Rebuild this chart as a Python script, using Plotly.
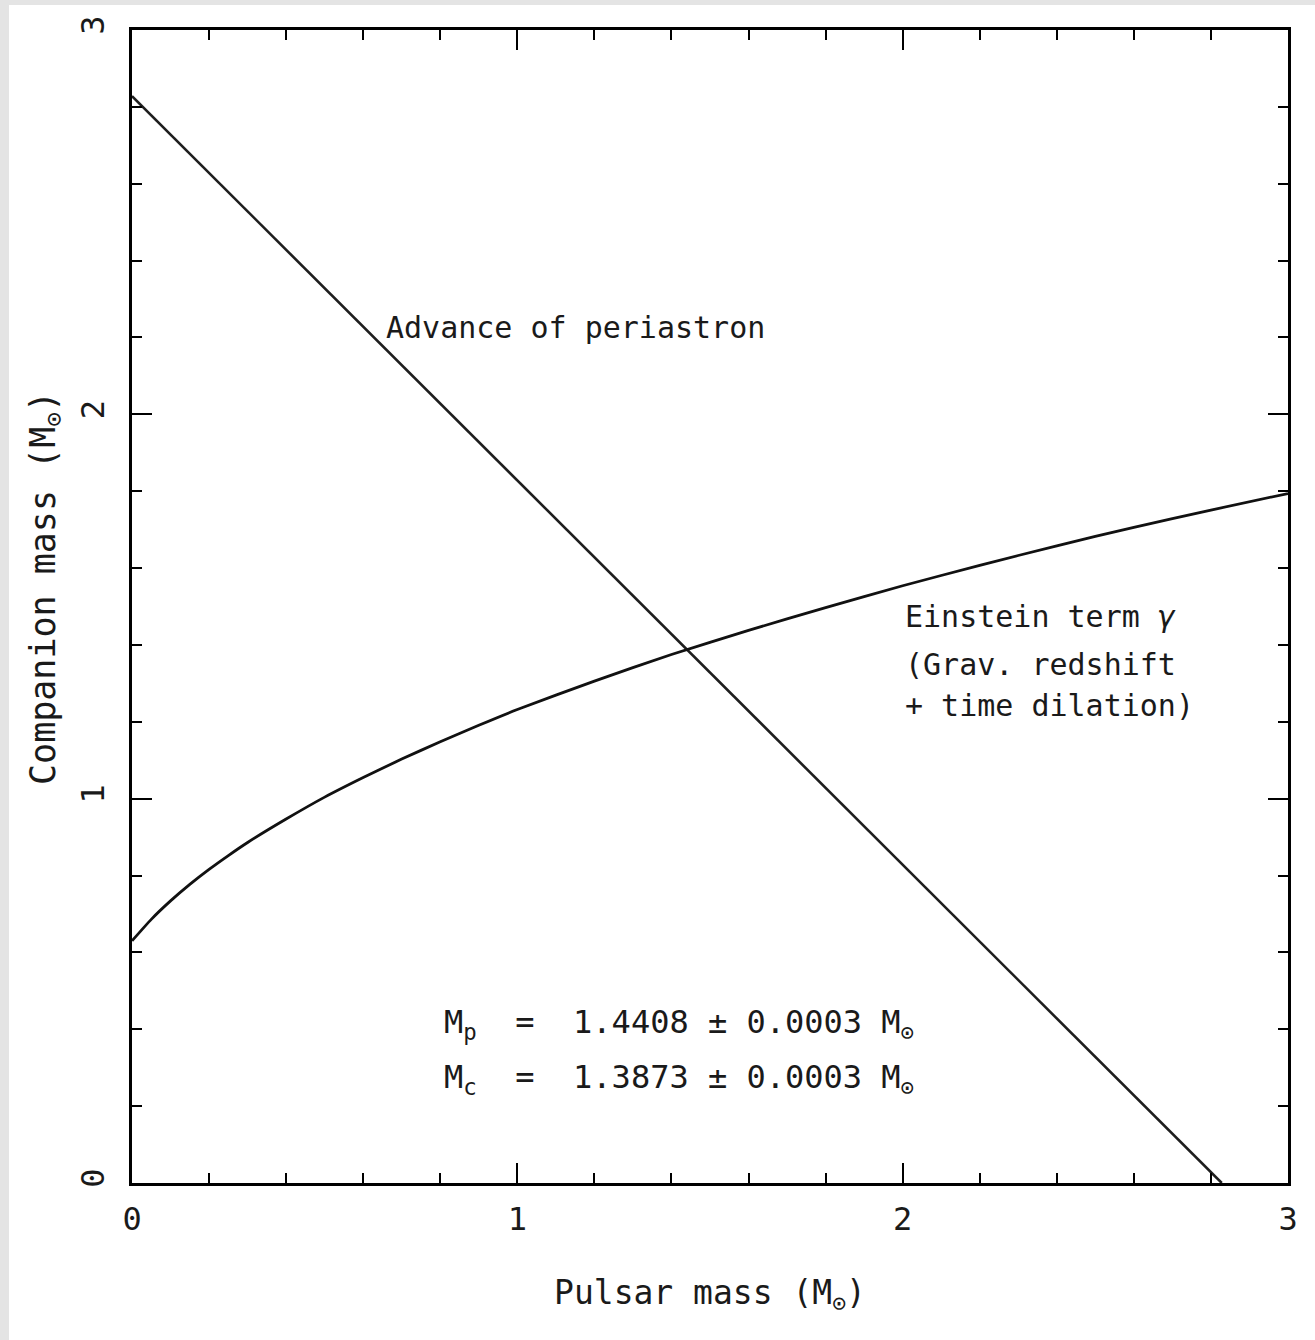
import plotly.graph_objects as go

# Data
periastron_x = [0.0, 2.8281]
periastron_y = [2.8281, 0.0]

einstein_x = [0.0, 0.05, 0.1, 0.15, 0.2, 0.25, 0.3, 0.4, 0.5, 0.6, 0.7, 0.8, 0.9, 1.0,
              1.2, 1.4, 1.6, 1.8, 2.0, 2.2, 2.4, 2.6, 2.8, 3.0]
einstein_y = [0.630, 0.686, 0.734, 0.777, 0.816, 0.852, 0.886, 0.947, 1.004, 1.055, 1.103,
              1.148, 1.191, 1.232, 1.306, 1.375, 1.438, 1.497, 1.554, 1.607, 1.658, 1.706,
              1.751, 1.794]

x_ticks = [0, 1, 2, 3]
y_ticks = [0, 1, 2, 3]

FONT = "DejaVu Sans Mono"
INK = "#1a1a1a"

fig = go.Figure()
fig.add_trace(go.Scatter(x=periastron_x, y=periastron_y, mode="lines",
                         line=dict(color="#1e1e1e", width=2.6), showlegend=False))
fig.add_trace(go.Scatter(x=einstein_x, y=einstein_y, mode="lines",
                         line=dict(color="#111111", width=2.8, shape="spline", smoothing=0.6),
                         showlegend=False))

axis_common = dict(
    range=[0, 3], showgrid=False, zeroline=False,
    showline=True, linecolor="black", linewidth=2.5, mirror="allticks",
    ticks="inside", ticklen=20, tickwidth=2, tickcolor="black",
    tickfont=dict(family=FONT, size=32, color=INK),
    minor=dict(dtick=0.2, ticks="inside", ticklen=10, tickwidth=2, tickcolor="black", showgrid=False),
)

fig.update_xaxes(**axis_common, tickvals=x_ticks, ticktext=[str(v) for v in x_ticks],
                 ticklabelstandoff=6,
                 title=dict(text="Pulsar mass (M<sub>⊙</sub>)", font=dict(family=FONT, size=33, color=INK), standoff=44))
fig.update_yaxes(**axis_common, tickvals=y_ticks, ticktext=[str(v) for v in y_ticks], tickangle=-90,
                 ticklabelstandoff=12)

# y-axis title (placed as rotated text to match the reference position)
fig.add_annotation(x=-0.0753, y=0.516, xref="paper", yref="paper", textangle=-90,
                   text="Companion mass (M<sub>⊙</sub>)", showarrow=False,
                   xanchor="center", yanchor="middle",
                   font=dict(family=FONT, size=35, color=INK))

def note(x, y, text, size=30):
    fig.add_annotation(x=x, y=y, xref="x", yref="y", text=text, showarrow=False,
                       xanchor="left", yanchor="middle",
                       font=dict(family=FONT, size=size, color=INK))

note(0.655, 2.227, "Advance of periastron")
note(2.0, 1.475, "Einstein term <i>γ</i>")
note(2.0, 1.348, "(Grav. redshift")
note(2.0, 1.242, "+ time dilation)")
note(0.805, 0.415, "M<sub>p</sub>  =  1.4408 ± 0.0003 M<sub>⊙</sub>", size=32)
note(0.805, 0.27, "M<sub>c</sub>  =  1.3873 ± 0.0003 M<sub>⊙</sub>", size=32)

# light grey page border strips (top and left)
fig.add_shape(type="rect", xref="paper", yref="paper", x0=-0.12, x1=1.03, y0=1.0217, y1=1.03,
              fillcolor="#e4e4e4", line=dict(width=0), layer="below")
fig.add_shape(type="rect", xref="paper", yref="paper", x0=-0.12, x1=-0.1064, y0=-0.14, y1=1.03,
              fillcolor="#e4e4e4", line=dict(width=0), layer="below")

fig.update_layout(
    width=1315, height=1340,
    margin=dict(l=132, r=27, t=30, b=157),
    paper_bgcolor="white", plot_bgcolor="white",
    font=dict(family=FONT, color=INK),
)

fig.write_html("out.html")
